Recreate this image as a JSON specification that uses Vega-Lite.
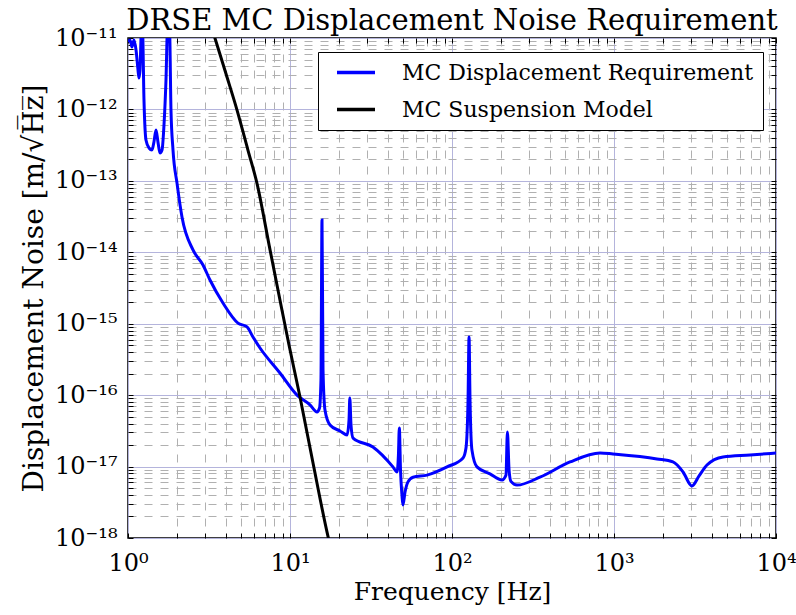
{
  "$schema": "https://vega.github.io/schema/vega-lite/v6.json",
  "width": 648,
  "height": 500,
  "autosize": {"type": "none"},
  "padding": {"left": 128, "top": 38, "right": 20, "bottom": 77},
  "background": "white",
  "config": {
    "view": {"stroke": "black", "strokeWidth": 1.5},
    "font": "DejaVu Serif"
  },
  "title": {
    "text": "DRSE MC Displacement Noise Requirement",
    "font": "DejaVu Serif",
    "fontSize": 29,
    "fontWeight": "normal",
    "color": "black",
    "anchor": "middle",
    "offset": -10
  },
  "resolve": {"axis": {"x": "independent", "y": "independent"}},
  "layer": [
    {
      "data": {"values": [
        {"f": 1.000, "v": 8.8e-12, "s": "MC Displacement Requirement"},
        {"f": 1.029, "v": 9.4e-12, "s": "MC Displacement Requirement"},
        {"f": 1.058, "v": 7.5e-12, "s": "MC Displacement Requirement"},
        {"f": 1.089, "v": 9.4e-12, "s": "MC Displacement Requirement"},
        {"f": 1.121, "v": 6.8e-12, "s": "MC Displacement Requirement"},
        {"f": 1.153, "v": 3.56e-12, "s": "MC Displacement Requirement"},
        {"f": 1.169, "v": 2.75e-12, "s": "MC Displacement Requirement"},
        {"f": 1.186, "v": 3.56e-12, "s": "MC Displacement Requirement"},
        {"f": 1.211, "v": 1.3e-11, "s": "MC Displacement Requirement"},
        {"f": 1.229, "v": 1.3e-11, "s": "MC Displacement Requirement"},
        {"f": 1.255, "v": 1.36e-12, "s": "MC Displacement Requirement"},
        {"f": 1.291, "v": 3.73e-13, "s": "MC Displacement Requirement"},
        {"f": 1.348, "v": 2.88e-13, "s": "MC Displacement Requirement"},
        {"f": 1.406, "v": 2.7e-13, "s": "MC Displacement Requirement"},
        {"f": 1.446, "v": 3.5e-13, "s": "MC Displacement Requirement"},
        {"f": 1.489, "v": 5.15e-13, "s": "MC Displacement Requirement"},
        {"f": 1.531, "v": 3.5e-13, "s": "MC Displacement Requirement"},
        {"f": 1.576, "v": 2.45e-13, "s": "MC Displacement Requirement"},
        {"f": 1.622, "v": 2.7e-13, "s": "MC Displacement Requirement"},
        {"f": 1.668, "v": 6.05e-13, "s": "MC Displacement Requirement"},
        {"f": 1.716, "v": 2.58e-12, "s": "MC Displacement Requirement"},
        {"f": 1.753, "v": 1.3e-11, "s": "MC Displacement Requirement"},
        {"f": 1.804, "v": 1.3e-11, "s": "MC Displacement Requirement"},
        {"f": 1.842, "v": 9.8e-13, "s": "MC Displacement Requirement"},
        {"f": 1.896, "v": 2.7e-13, "s": "MC Displacement Requirement"},
        {"f": 2.007, "v": 9.3e-14, "s": "MC Displacement Requirement"},
        {"f": 2.154, "v": 3.12e-14, "s": "MC Displacement Requirement"},
        {"f": 2.519, "v": 1.08e-14, "s": "MC Displacement Requirement"},
        {"f": 2.904, "v": 6.64e-15, "s": "MC Displacement Requirement"},
        {"f": 3.207, "v": 4.09e-15, "s": "MC Displacement Requirement"},
        {"f": 3.857, "v": 1.95e-15, "s": "MC Displacement Requirement"},
        {"f": 4.775, "v": 1.02e-15, "s": "MC Displacement Requirement"},
        {"f": 5.43, "v": 9.0e-16, "s": "MC Displacement Requirement"},
        {"f": 5.91, "v": 6.5e-16, "s": "MC Displacement Requirement"},
        {"f": 6.53, "v": 4.57e-16, "s": "MC Displacement Requirement"},
        {"f": 8.67, "v": 2.04e-16, "s": "MC Displacement Requirement"},
        {"f": 11.05, "v": 1.0e-16, "s": "MC Displacement Requirement"},
        {"f": 13.28, "v": 7.3e-17, "s": "MC Displacement Requirement"},
        {"f": 14.68, "v": 5.8e-17, "s": "MC Displacement Requirement"},
        {"f": 15.21, "v": 6.6e-17, "s": "MC Displacement Requirement"},
        {"f": 15.53, "v": 1.63e-16, "s": "MC Displacement Requirement"},
        {"f": 15.76, "v": 2.83e-14, "s": "MC Displacement Requirement"},
        {"f": 15.99, "v": 2.25e-16, "s": "MC Displacement Requirement"},
        {"f": 16.44, "v": 6.2e-17, "s": "MC Displacement Requirement"},
        {"f": 17.66, "v": 3.82e-17, "s": "MC Displacement Requirement"},
        {"f": 20.35, "v": 3.15e-17, "s": "MC Displacement Requirement"},
        {"f": 22.5, "v": 2.77e-17, "s": "MC Displacement Requirement"},
        {"f": 23.14, "v": 4.5e-17, "s": "MC Displacement Requirement"},
        {"f": 23.4, "v": 9.1e-17, "s": "MC Displacement Requirement"},
        {"f": 23.8, "v": 3.82e-17, "s": "MC Displacement Requirement"},
        {"f": 24.5, "v": 2.51e-17, "s": "MC Displacement Requirement"},
        {"f": 32.5, "v": 1.88e-17, "s": "MC Displacement Requirement"},
        {"f": 43.2, "v": 9.9e-18, "s": "MC Displacement Requirement"},
        {"f": 45.8, "v": 8.4e-18, "s": "MC Displacement Requirement"},
        {"f": 46.7, "v": 1.45e-17, "s": "MC Displacement Requirement"},
        {"f": 47.3, "v": 3.47e-17, "s": "MC Displacement Requirement"},
        {"f": 48.1, "v": 9.0e-18, "s": "MC Displacement Requirement"},
        {"f": 49.1, "v": 4.0e-18, "s": "MC Displacement Requirement"},
        {"f": 49.8, "v": 2.9e-18, "s": "MC Displacement Requirement"},
        {"f": 51.3, "v": 4.4e-18, "s": "MC Displacement Requirement"},
        {"f": 53.5, "v": 6.1e-18, "s": "MC Displacement Requirement"},
        {"f": 57.5, "v": 7.1e-18, "s": "MC Displacement Requirement"},
        {"f": 70.1, "v": 7.6e-18, "s": "MC Displacement Requirement"},
        {"f": 93.2, "v": 9.9e-18, "s": "MC Displacement Requirement"},
        {"f": 117, "v": 1.32e-17, "s": "MC Displacement Requirement"},
        {"f": 122, "v": 1.82e-17, "s": "MC Displacement Requirement"},
        {"f": 125.6, "v": 8.5e-17, "s": "MC Displacement Requirement"},
        {"f": 127.4, "v": 6.5e-16, "s": "MC Displacement Requirement"},
        {"f": 129.2, "v": 8.5e-17, "s": "MC Displacement Requirement"},
        {"f": 132.8, "v": 1.7e-17, "s": "MC Displacement Requirement"},
        {"f": 142.6, "v": 9.9e-18, "s": "MC Displacement Requirement"},
        {"f": 171.6, "v": 7.9e-18, "s": "MC Displacement Requirement"},
        {"f": 203.6, "v": 6.5e-18, "s": "MC Displacement Requirement"},
        {"f": 215.4, "v": 7.6e-18, "s": "MC Displacement Requirement"},
        {"f": 219.8, "v": 3.05e-17, "s": "MC Displacement Requirement"},
        {"f": 225, "v": 9.0e-18, "s": "MC Displacement Requirement"},
        {"f": 231, "v": 6.2e-18, "s": "MC Displacement Requirement"},
        {"f": 252, "v": 5.5e-18, "s": "MC Displacement Requirement"},
        {"f": 349, "v": 7.1e-18, "s": "MC Displacement Requirement"},
        {"f": 535, "v": 1.16e-17, "s": "MC Displacement Requirement"},
        {"f": 820, "v": 1.55e-17, "s": "MC Displacement Requirement"},
        {"f": 986, "v": 1.5e-17, "s": "MC Displacement Requirement"},
        {"f": 1842, "v": 1.28e-17, "s": "MC Displacement Requirement"},
        {"f": 2312, "v": 1.16e-17, "s": "MC Displacement Requirement"},
        {"f": 2667, "v": 8.4e-18, "s": "MC Displacement Requirement"},
        {"f": 3030, "v": 5.35e-18, "s": "MC Displacement Requirement"},
        {"f": 3350, "v": 7.4e-18, "s": "MC Displacement Requirement"},
        {"f": 3750, "v": 1.05e-17, "s": "MC Displacement Requirement"},
        {"f": 4710, "v": 1.36e-17, "s": "MC Displacement Requirement"},
        {"f": 6920, "v": 1.45e-17, "s": "MC Displacement Requirement"},
        {"f": 10000, "v": 1.55e-17, "s": "MC Displacement Requirement"}
      ]},
      "mark": {"type": "line", "clip": true, "strokeWidth": 3, "interpolate": "monotone"},
      "encoding": {
        "x": {
          "field": "f", "type": "quantitative",
          "scale": {"type": "log", "domain": [1, 10000], "nice": false},
          "axis": {
            "orient": "bottom",
            "values": [1,2,3,4,5,6,7,8,9,10,20,30,40,50,60,70,80,90,100,200,300,400,500,600,700,800,900,1000,2000,3000,4000,5000,6000,7000,8000,9000,10000],
            "labelExpr": "abs(log(datum.value)/LN10 - round(log(datum.value)/LN10)) > 0.01 ? '' : '10' + ['⁰','¹','²','³','⁴'][round(log(datum.value)/LN10)]",
            "labelFont": "DejaVu Serif", "labelFontSize": 24, "labelColor": "black",
            "labelOverlap": false, "labelFlush": false, "labelBound": false,
            "labelPadding": 18,
            "domain": false,
            "ticks": true, "tickSize": -5, "tickColor": "black", "tickWidth": 1,
            "grid": true,
            "gridColor": {"condition": {"test": "abs(log(datum.value)/LN10 - round(log(datum.value)/LN10)) < 0.01", "value": "#b4b4dc"}, "value": "#b0b0b0"},
            "gridDash": {"condition": {"test": "abs(log(datum.value)/LN10 - round(log(datum.value)/LN10)) < 0.01", "value": []}, "value": [8, 8]},
            "gridWidth": 1,
            "title": "Frequency [Hz]",
            "titleFont": "DejaVu Serif", "titleFontSize": 25, "titleFontWeight": "normal", "titleColor": "black",
            "titlePadding": 4
          }
        },
        "y": {
          "field": "v", "type": "quantitative",
          "scale": {"type": "log", "domain": [1e-18, 1e-11], "nice": false},
          "axis": {
            "orient": "left",
            "values": [1e-18,2e-18,3e-18,4e-18,5e-18,6e-18,7e-18,8e-18,9e-18,1e-17,2e-17,3e-17,4e-17,5e-17,6e-17,7e-17,8e-17,9e-17,1e-16,2e-16,3e-16,4e-16,5e-16,6e-16,7e-16,8e-16,9e-16,1e-15,2e-15,3e-15,4e-15,5e-15,6e-15,7e-15,8e-15,9e-15,1e-14,2e-14,3e-14,4e-14,5e-14,6e-14,7e-14,8e-14,9e-14,1e-13,2e-13,3e-13,4e-13,5e-13,6e-13,7e-13,8e-13,9e-13,1e-12,2e-12,3e-12,4e-12,5e-12,6e-12,7e-12,8e-12,9e-12,1e-11],
            "labelExpr": "abs(log(datum.value)/LN10 - round(log(datum.value)/LN10)) > 0.01 ? '' : '10⁻' + ['¹¹','¹²','¹³','¹⁴','¹⁵','¹⁶','¹⁷','¹⁸'][-round(log(datum.value)/LN10) - 11]",
            "labelFont": "DejaVu Serif", "labelFontSize": 24, "labelColor": "black",
            "labelOverlap": false, "labelFlush": false, "labelBound": false,
            "labelPadding": 16,
            "domain": false,
            "ticks": true, "tickSize": -5, "tickColor": "black", "tickWidth": 1,
            "grid": true,
            "gridColor": {"condition": {"test": "abs(log(datum.value)/LN10 - round(log(datum.value)/LN10)) < 0.01", "value": "#b4b4dc"}, "value": "#b0b0b0"},
            "gridDash": {"condition": {"test": "abs(log(datum.value)/LN10 - round(log(datum.value)/LN10)) < 0.01", "value": []}, "value": [8, 8]},
            "gridWidth": 1,
            "title": "Displacement Noise [m/√H̅z̅]",
            "titleFont": "DejaVu Serif", "titleFontSize": 28, "titleFontWeight": "normal", "titleColor": "black",
            "titlePadding": 6
          }
        },
        "color": {
          "field": "s", "type": "nominal",
          "scale": {"domain": ["MC Displacement Requirement", "MC Suspension Model"], "range": ["#0000ff", "#000000"]},
          "legend": {
            "orient": "none", "legendX": 190, "legendY": 14,
            "title": null,
            "symbolType": "stroke", "symbolSize": 1444, "symbolStrokeWidth": 3.5, "symbolOffset": 8,
            "labelFont": "DejaVu Serif", "labelFontSize": 22, "labelColor": "black", "labelLimit": 0,
            "labelOffset": 25,
            "rowPadding": 14, "clipHeight": 23,
            "padding": 9,
            "fillColor": "white", "strokeColor": "black", "cornerRadius": 0
          }
        }
      }
    },
    {
      "data": {"values": [
        {"f": 3.25, "v": 1.52e-11, "s": "MC Suspension Model"},
        {"f": 3.44, "v": 1.0e-11, "s": "MC Suspension Model"},
        {"f": 4.03, "v": 3.13e-12, "s": "MC Suspension Model"},
        {"f": 4.71, "v": 9.8e-13, "s": "MC Suspension Model"},
        {"f": 5.50, "v": 2.7e-13, "s": "MC Suspension Model"},
        {"f": 6.25, "v": 9.3e-14, "s": "MC Suspension Model"},
        {"f": 7.53, "v": 1.08e-14, "s": "MC Suspension Model"},
        {"f": 8.67, "v": 2.15e-15, "s": "MC Suspension Model"},
        {"f": 9.86, "v": 5.04e-16, "s": "MC Suspension Model"},
        {"f": 11.53, "v": 9.4e-17, "s": "MC Suspension Model"},
        {"f": 13.87, "v": 1.12e-17, "s": "MC Suspension Model"},
        {"f": 17.2, "v": 1.03e-18, "s": "MC Suspension Model"},
        {"f": 17.66, "v": 7.98e-19, "s": "MC Suspension Model"}
      ]},
      "mark": {"type": "line", "clip": true, "strokeWidth": 3, "interpolate": "monotone"},
      "encoding": {
        "x": {
          "field": "f", "type": "quantitative",
          "scale": {"type": "log", "domain": [1, 10000], "nice": false},
          "axis": {
            "orient": "top",
            "values": [1,2,3,4,5,6,7,8,9,10,20,30,40,50,60,70,80,90,100,200,300,400,500,600,700,800,900,1000,2000,3000,4000,5000,6000,7000,8000,9000,10000],
            "labels": false, "domain": false, "grid": false, "title": null,
            "ticks": true, "tickSize": -5, "tickColor": "black", "tickWidth": 1
          }
        },
        "y": {
          "field": "v", "type": "quantitative",
          "scale": {"type": "log", "domain": [1e-18, 1e-11], "nice": false},
          "axis": {
            "orient": "right",
            "values": [1e-18,2e-18,3e-18,4e-18,5e-18,6e-18,7e-18,8e-18,9e-18,1e-17,2e-17,3e-17,4e-17,5e-17,6e-17,7e-17,8e-17,9e-17,1e-16,2e-16,3e-16,4e-16,5e-16,6e-16,7e-16,8e-16,9e-16,1e-15,2e-15,3e-15,4e-15,5e-15,6e-15,7e-15,8e-15,9e-15,1e-14,2e-14,3e-14,4e-14,5e-14,6e-14,7e-14,8e-14,9e-14,1e-13,2e-13,3e-13,4e-13,5e-13,6e-13,7e-13,8e-13,9e-13,1e-12,2e-12,3e-12,4e-12,5e-12,6e-12,7e-12,8e-12,9e-12,1e-11],
            "labels": false, "domain": false, "grid": false, "title": null,
            "ticks": true, "tickSize": -5, "tickColor": "black", "tickWidth": 1
          }
        },
        "color": {"field": "s", "type": "nominal"}
      }
    }
  ]
}
